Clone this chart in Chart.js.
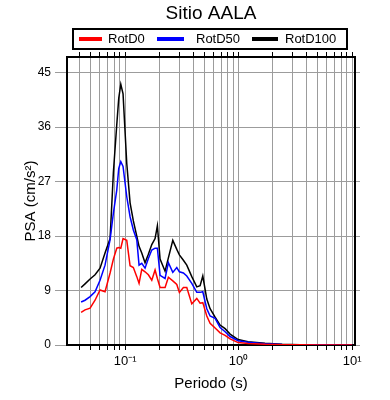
<!DOCTYPE html>
<html>
<head>
<meta charset="utf-8">
<script src="https://cdn.jsdelivr.net/npm/chart.js@4"></script>
<style>
  html, body { margin: 0; padding: 0; background: #fff; }
  canvas { display: block; }
</style>
</head>
<body>
<canvas id="grafiek" width="390" height="400"></canvas>
<script>
const periodos = [0.041, 0.0444, 0.0492, 0.0544, 0.0602, 0.0666, 0.0738, 0.0789, 0.0845, 0.088,
  0.0917, 0.096, 0.1035, 0.1107, 0.1183, 0.1268, 0.1328, 0.1403, 0.150, 0.1604,
  0.1719, 0.1838, 0.1926, 0.2034, 0.2251, 0.2407, 0.2633, 0.2855, 0.3009, 0.3264,
  0.3496, 0.387, 0.4282, 0.458, 0.4838, 0.5246, 0.561, 0.6209, 0.6871, 0.7605,
  0.8415, 0.99, 1.21, 1.71, 2.42, 3.48, 5.22, 7.84, 10];

const rotD0 = [5.4, 5.8, 6.1, 7.4, 9.1, 8.8, 11.9, 14.2, 16.0, 16.1,
  16.0, 17.6, 17.3, 13.1, 12.8, 11.3, 10.2, 12.5, 12.1, 11.6,
  10.7, 12.4, 11.0, 9.5, 9.5, 11.2, 10.6, 10.0, 8.7, 9.5,
  9.5, 6.8, 7.7, 6.9, 7.0, 4.8, 3.6, 2.8, 2.0, 1.6,
  1.0, 0.4, 0.25, 0.12, 0.06, 0.03, 0.02, 0.01, 0.01];

const rotD50 = [7.1, 7.4, 8.0, 8.8, 10.7, 13.2, 17.4, 21.8, 25.6, 29.2,
  30.3, 29.5, 24.5, 21.2, 19.0, 17.4, 13.2, 13.5, 12.7, 14.3,
  15.7, 16.0, 16.0, 11.5, 11.0, 13.6, 12.0, 12.8, 12.1, 11.9,
  11.4, 10.2, 8.7, 8.7, 8.8, 6.0, 4.8, 4.4, 2.9, 2.2,
  1.4, 0.7, 0.45, 0.22, 0.1, 0.05, 0.03, 0.02, 0.02];

const rotD100 = [9.5, 10.1, 10.9, 11.6, 12.7, 15.2, 17.6, 28.5, 36.4, 40.8,
  43.1, 41.5, 30.0, 23.5, 20.5, 18.0, 16.3, 15.2, 13.6, 15.0,
  16.6, 17.6, 19.7, 14.2, 12.2, 14.4, 17.3, 15.8, 14.9, 14.0,
  13.2, 11.3, 9.6, 9.8, 11.4, 7.6, 6.0, 4.6, 3.3, 2.7,
  1.8, 0.9, 0.55, 0.3, 0.12, 0.06, 0.04, 0.03, 0.02];

const seriesNamen = ["RotD0", "RotD50", "RotD100"];
const seriesKleuren = ["#ff0000", "#0000ff", "#000000"];
const yTicks = [0, 9, 18, 27, 36, 45];
const xLabels = { 0.1: "10\u207B\u00B9", 1: "10\u2070", 10: "10\u00B9" };

const fuente = '"Liberation Sans", Arial, Helvetica, sans-serif';
Chart.defaults.font.family = fuente;
Chart.defaults.color = "#000";

// todas las marcas 1..9 x 10^k
function logTicks(scale) {
  const ticks = [];
  for (let k = -2; k <= 1; k++) {
    for (let m = 1; m <= 9; m++) {
      const v = m * Math.pow(10, k);
      if (v >= scale.min && v <= scale.max) ticks.push({ value: v });
    }
  }
  scale.ticks = ticks;
}

function punten(valores) {
  return periodos.map((p, i) => ({ x: p, y: valores[i] }));
}

// Leyenda con marco, dibujada encima
const leyendaPlugin = {
  id: "leyendaMarco",
  afterDraw(chart) {
    const c = chart.ctx;
    c.save();
    c.strokeStyle = "#000";
    c.lineWidth = 2;
    c.strokeRect(73, 29, 274, 20);
    const items = [[79, 102, 108], [157, 184, 196], [252, 278, 285]];
    c.font = "13px " + fuente;
    c.textBaseline = "middle";
    c.fillStyle = "#000";
    chart.data.datasets.forEach((ds, i) => {
      const [x0, x1, xt] = items[i];
      c.strokeStyle = ds.borderColor;
      c.lineWidth = 4;
      c.beginPath();
      c.moveTo(x0, 39);
      c.lineTo(x1, 39);
      c.stroke();
      c.fillText(ds.label, xt, 39.5);
    });
    c.restore();
  }
};

const gris = "#9c9c9c";

new Chart(document.getElementById("grafiek"), {
  type: "line",
  data: {
    datasets: [
      { label: seriesNamen[0], data: punten(rotD0), borderColor: seriesKleuren[0] },
      { label: seriesNamen[1], data: punten(rotD50), borderColor: seriesKleuren[1] },
      { label: seriesNamen[2], data: punten(rotD100), borderColor: seriesKleuren[2] }
    ]
  },
  options: {
    responsive: false,
    animation: false,
    events: [],
    elements: {
      line: { borderWidth: 1.5, tension: 0, fill: false },
      point: { radius: 0 }
    },
    layout: { padding: 0 },
    plugins: {
      legend: { display: false },
      tooltip: { enabled: false },
      title: {
        display: true,
        text: "Sitio AALA",
        fullSize: false,
        color: "#000",
        font: { size: 19, weight: "normal" },
        padding: { top: 2, bottom: 27.2 }
      }
    },
    scales: {
      x: {
        type: "logarithmic",
        position: "bottom",
        min: 0.0308,
        max: 10.6,
        afterBuildTicks: logTicks,
        afterFit: s => { s.height = 55; },
        grid: { color: gris, lineWidth: 1, tickLength: 5, tickColor: "#000" },
        border: { color: "#000", width: 2 },
        ticks: {
          autoSkip: false,
          maxRotation: 0,
          padding: 4,
          font: { size: 13 },
          callback: v => xLabels[v] || ""
        },
        title: { display: true, text: "Periodo (s)", font: { size: 15 }, padding: { top: 0, bottom: 7 } }
      },
      x2: {
        type: "logarithmic",
        position: "top",
        min: 0.0308,
        max: 10.6,
        afterBuildTicks: logTicks,
        afterFit: s => { s.height = 5; },
        grid: { drawOnChartArea: false, tickLength: 5, tickColor: "#000" },
        border: { color: "#000", width: 2 },
        ticks: { display: false }
      },
      y: {
        position: "left",
        min: 0,
        max: 47.6,
        afterBuildTicks: s => { s.ticks = yTicks.map(v => ({ value: v })); },
        afterFit: s => { s.width = 67; },
        grid: { color: gris, lineWidth: 1, tickLength: 12, tickColor: gris },
        border: { color: "#000", width: 2 },
        ticks: { padding: 4, font: { size: 12 } },
        title: { display: true, text: "PSA (cm/s\u00B2)", font: { size: 15 }, padding: { top: 22, bottom: 0 } }
      },
      y2: {
        position: "right",
        min: 0,
        max: 47.6,
        afterBuildTicks: s => { s.ticks = yTicks.map(v => ({ value: v })); },
        afterFit: s => { s.width = 35; },
        grid: { drawOnChartArea: false, tickLength: 5, tickColor: gris },
        border: { color: "#000", width: 2 },
        ticks: { display: false }
      }
    }
  },
  plugins: [leyendaPlugin]
});
</script>
</body>
</html>
